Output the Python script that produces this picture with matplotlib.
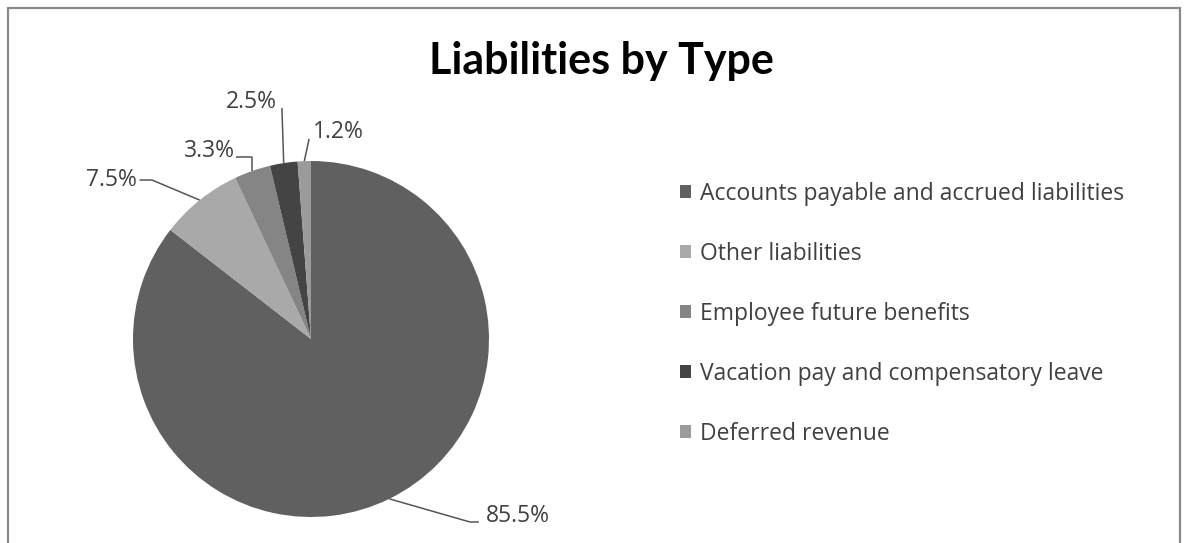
import numpy as np
import matplotlib
matplotlib.use("Agg")
import matplotlib.pyplot as plt
from matplotlib.patches import Rectangle

# Liabilities breakdown (percent of total)
categories = [
    "Accounts payable and accrued liabilities",
    "Other liabilities",
    "Employee future benefits",
    "Vacation pay and compensatory leave",
    "Deferred revenue",
]
shares = [85.5, 7.5, 3.3, 2.5, 1.2]

COLORS = ["#606060", "#a9a9a9", "#858585", "#444444", "#9b9b9b"]
FONT = ["Open Sans", "DejaVu Sans"]

W, H = 1186, 543
fig = plt.figure(figsize=(W / 100, H / 100), dpi=100)
fig.patch.set_facecolor("white")

# pie axes: centre at (311, 339) px, radius 178 px
cx, cy, r = 311, 339, 178
x0, x1, y0, y1 = 0, 640, 60, 543
ax = fig.add_axes([x0 / W, 1 - y1 / H, (x1 - x0) / W, (y1 - y0) / H])
wedges, _ = ax.pie(shares, colors=COLORS, startangle=90, counterclock=False,
                   radius=1, wedgeprops=dict(linewidth=0))
ax.set_xlim((x0 - cx) / r, (x1 - cx) / r)
ax.set_ylim((cy - y1) / r, (cy - y0) / r)
ax.set_aspect("equal")
ax.axis("off")

# label anchor, alignment and leader-line bend point (data units) per slice
label_pos = [
    ((0.983, -0.994), "left",  (0.893, -1.028)),
    ((-0.978, 0.893), "right", (-0.893, 0.893)),
    ((-0.427, 1.056), "right", None),
    ((-0.190, 1.331), "right", None),
    ((0.011, 1.163), "left",  None),
]

for w, val, (txt, ha, bend) in zip(wedges, shares, label_pos):
    mid = np.deg2rad((w.theta1 + w.theta2) / 2)
    ex, ey = np.cos(mid), np.sin(mid)
    if val == 85.5:
        pts = [(ex, ey), bend, (txt[0] - 0.04, bend[1])]
    elif val == 7.5:
        pts = [(ex, ey), bend, (txt[0] + 0.015, bend[1])]
    elif val == 3.3:
        pts = [(ex, ey), (ex, 1.022), (txt[0] + 0.005, 1.022)]
    elif val == 2.5:
        pts = [(ex, ey), (ex - 0.01, 1.298)]
    else:
        pts = [(ex, ey), (ex + 0.027, 1.124)]
    xs, ys = zip(*pts)
    ax.plot(xs, ys, color="#555555", lw=1.1, solid_capstyle="butt")
    ax.text(txt[0], txt[1], f"{val}%", ha=ha, va="center",
            fontsize=16.5, color="#404040", family=FONT)

# legend
leg = fig.legend(wedges, categories, loc="upper left",
                 bbox_to_anchor=(659 / W, 1 - 161 / H), frameon=False,
                 prop=dict(family=FONT, size=16.5), labelcolor="#404040",
                 handlelength=0.5, handleheight=0.5, handletextpad=0.4,
                 labelspacing=1.57)

fig.text(601 / W, 1 - 61 / H, "Liabilities by Type", ha="center", va="center",
         fontsize=31, fontweight="bold", color="black",
         family=["Lato", "DejaVu Sans"])

# chart border
fig.patches.append(Rectangle((8 / W, -0.05), (1180 - 8) / W, 1.05 - 8 / H,
                             transform=fig.transFigure, fill=False,
                             edgecolor="#8a8a8a", lw=1.6))

fig.savefig("out.png", dpi=100)
